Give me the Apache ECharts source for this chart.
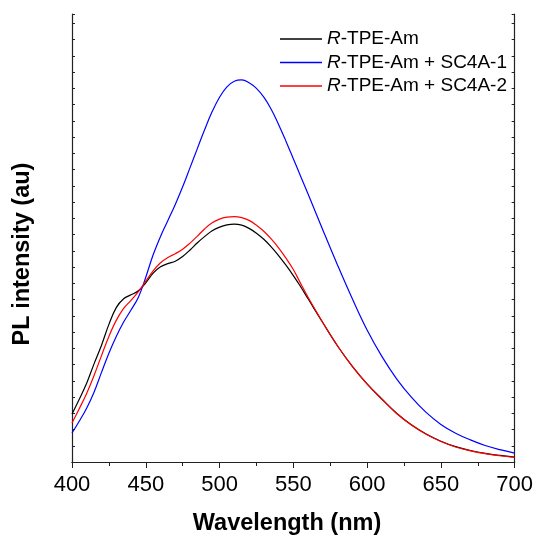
<!DOCTYPE html>
<html>
<head>
<meta charset="utf-8">
<script src="https://cdn.jsdelivr.net/npm/echarts@6/dist/echarts.min.js"></script>
<style>html,body{margin:0;padding:0;background:#fff}#c{width:536px;height:536px}</style>
</head>
<body>
<div id="c"></div>
<script>
var wavelengths = [400,405,410,415,420,425,430,435,440,445,450,455,460,465,470,475,480,485,490,495,500,505,510,515,520,525,530,535,540,545,550,555,560,570,580,590,600,610,620,630,640,650,660,670,680,690,700];
var tpeAm = [3.0,3.94,4.94,6.15,7.3,8.6,9.65,10.2,10.45,10.7,11.2,11.8,12.2,12.4,12.55,12.85,13.25,13.7,14.1,14.45,14.68,14.82,14.87,14.8,14.6,14.3,13.92,13.45,12.9,12.3,11.65,10.95,10.2,8.7,7.25,5.98,4.88,3.94,3.05,2.33,1.75,1.3,0.96,0.72,0.54,0.41,0.31];
var tpeAmSC1 = [1.81,2.56,3.38,4.38,5.6,6.8,7.85,8.75,9.5,10.3,11.55,12.95,14.1,15.1,16.1,17.2,18.4,19.6,20.8,21.9,22.8,23.45,23.8,23.88,23.7,23.35,22.8,22.05,21.1,20.05,18.95,17.85,16.75,14.5,12.3,10.2,8.25,6.6,5.2,4.05,3.1,2.35,1.8,1.38,1.03,0.77,0.56];
var tpeAmSC2 = [2.44,3.35,4.3,5.42,6.65,7.85,8.85,9.6,10.1,10.65,11.3,11.95,12.45,12.78,13.02,13.3,13.68,14.12,14.58,14.95,15.18,15.3,15.33,15.27,15.1,14.8,14.42,13.94,13.38,12.74,12.03,11.15,10.3,8.72,7.25,5.97,4.87,3.92,3.03,2.31,1.73,1.28,0.94,0.7,0.52,0.39,0.29];
var seriesNames = ['R-TPE-Am', 'R-TPE-Am + SC4A-1', 'R-TPE-Am + SC4A-2'];
var seriesColors = ['#000000', '#0000ff', '#ff0000'];
var xTicks = [400,450,500,550,600,650,700];

function zip(ys){ return wavelengths.map(function(x,i){ return [x, ys[i]]; }); }

var font = '"Liberation Sans", Arial, sans-serif';
var chart = echarts.init(document.getElementById('c'));
var axisLineStyle = {color:'#222', width:1.2};
var seriesData = [tpeAm, tpeAmSC1, tpeAmSC2];
chart.setOption({
  animation:false,
  backgroundColor:'#fff',
  grid:{left:72, right:20, top:14, bottom:74},
  legend:{
    orient:'vertical', left:280, top:29.5, padding:0, itemWidth:42, itemHeight:1.4, itemGap:4.5,
    icon:'rect',
    data: seriesNames,
    textStyle:{fontFamily:font, fontSize:19, lineHeight:19, color:'#000', rich:{i:{fontStyle:'italic', fontFamily:font, fontSize:19, lineHeight:19, color:'#000'}}},
    formatter:function(n){ return '{i|R}' + n.slice(1); }
  },
  xAxis:[{
    type:'value', min:400, max:700, interval:50, position:'bottom',
    axisLine:{show:true, lineStyle:axisLineStyle},
    axisTick:{show:true, inside:false, length:6, lineStyle:{color:'#222'}},
    minorTick:{show:true, splitNumber:2, length:4, lineStyle:{color:'#222'}},
    splitLine:{show:false},
    axisLabel:{fontFamily:font, fontSize:22, color:'#000', margin:12,
      formatter:function(v){ return xTicks.indexOf(v) >= 0 ? String(v) : ''; }}
  },{
    type:'value', min:400, max:700, interval:50, position:'top',
    axisLine:{show:true, lineStyle:axisLineStyle},
    axisTick:{show:true, inside:true, length:4, lineStyle:{color:'#222'}},
    minorTick:{show:true, splitNumber:2, length:3, lineStyle:{color:'#222'}},
    splitLine:{show:false}, axisLabel:{show:false}
  }],
  yAxis:[{
    type:'value', min:0, max:28, interval:1.015625, position:'left',
    axisLine:{show:true, lineStyle:axisLineStyle},
    axisTick:{show:true, inside:true, length:3, lineStyle:{color:'#222'}},
    splitLine:{show:false}, axisLabel:{show:false}
  },{
    type:'value', min:0, max:28, interval:1.015625, position:'right',
    axisLine:{show:true, lineStyle:axisLineStyle},
    axisTick:{show:true, inside:true, length:3, lineStyle:{color:'#222'}},
    splitLine:{show:false}, axisLabel:{show:false}
  }],
  graphic:[
    {type:'text', position:[287, 524], style:{text:'Wavelength (nm)', font:'bold 23.5px ' + font, fill:'#000', textAlign:'center', textVerticalAlign:'middle'}},
    {type:'text', position:[23, 254], rotation:Math.PI/2, style:{text:'PL intensity (au)', font:'bold 23.5px ' + font, fill:'#000', textAlign:'center', textVerticalAlign:'middle'}}
  ],
  series: seriesNames.map(function(n, k){
    return {name:n, type:'line', data:zip(seriesData[k]), showSymbol:false, symbol:'none', smooth:0.4,
      lineStyle:{color:seriesColors[k], width:1.2}, itemStyle:{color:seriesColors[k]}};
  })
});
</script>
</body>
</html>
